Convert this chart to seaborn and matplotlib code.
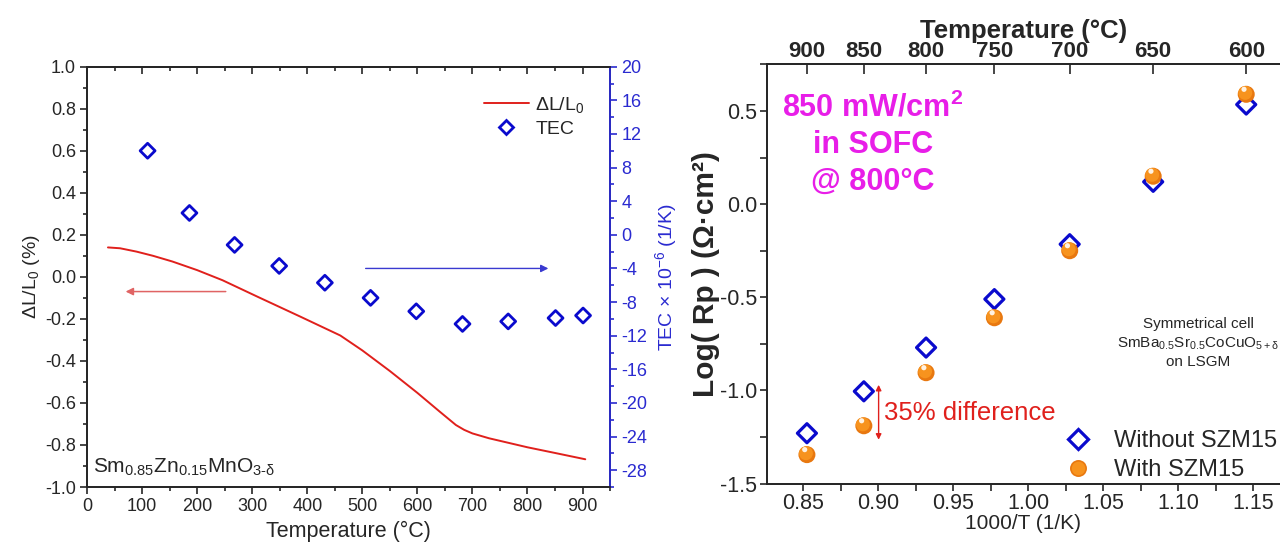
import numpy as np
import matplotlib
matplotlib.use("Agg")
import matplotlib.pyplot as plt
from matplotlib.lines import Line2D
from matplotlib.transforms import ScaledTranslation
from matplotlib.ticker import MultipleLocator, FixedLocator
from matplotlib.legend_handler import HandlerTuple
import seaborn as sns

# ---------------- data ----------------
# dilatometry curve: temperature (°C) vs dL/L0 (%)
dl_temp = [38, 60, 90, 120, 155, 200, 246, 310, 388, 460, 500, 550, 600, 640,
           670, 685, 700, 730, 800, 850, 905]
dl_pct = [0.140, 0.136, 0.120, 0.100, 0.073, 0.032, -0.016, -0.095, -0.190,
          -0.279, -0.350, -0.448, -0.552, -0.640, -0.705, -0.728, -0.745,
          -0.768, -0.811, -0.838, -0.868]

# thermal expansion coefficient (x1e-6 1/K)
tec_temp = [110, 186, 268, 349, 432, 515, 598, 682, 765, 851, 901]
tec_val = [10.0, 2.6, -1.2, -3.7, -5.7, -7.5, -9.1, -10.6, -10.3, -9.9, -9.6]

# polarisation resistance, symmetrical cell
rp_temp = [900, 850, 800, 750, 700, 650, 600]
rp_without = [-1.23, -1.005, -0.77, -0.51, -0.215, 0.12, 0.535]
rp_with = [-1.345, -1.19, -0.905, -0.61, -0.25, 0.15, 0.59]

top_ticks_T = [900, 850, 800, 750, 700, 650, 600]

# ---------------- style ----------------
sns.set_style("ticks")
plt.rcParams["font.family"] = ["Liberation Sans", "DejaVu Sans"]
plt.rcParams["mathtext.fontset"] = "custom"
plt.rcParams["mathtext.rm"] = "Liberation Sans"
plt.rcParams["mathtext.it"] = "Liberation Sans:italic"
plt.rcParams["mathtext.bf"] = "Liberation Sans:bold"
plt.rcParams["axes.linewidth"] = 1.3
plt.rcParams["axes.unicode_minus"] = False

RED = "#e0201c"
BLUE = "#0a0acd"
AXBLUE = "#2a2ad0"
MAGENTA = "#e81ee8"
ORANGE_DARK = "#e87810"
ORANGE = "#f7931e"


def fmt(v, nd):
    return f"{round(v, nd) + 0.0:.{nd}f}"


fig = plt.figure(figsize=(12.8, 5.48), dpi=100)

# ================= left panel =================
axL = fig.add_axes([0.068, 0.1113, 0.4086, 0.767])
sns.lineplot(x=dl_temp, y=dl_pct, ax=axL, color=RED, lw=1.4, sort=False,
             estimator=None, legend=False)
axL.set_xlim(0, 950)
axL.set_ylim(-1.0, 1.0)
axL.set_xticks(np.arange(0, 901, 100))
axL.xaxis.set_minor_locator(MultipleLocator(50))
yt = np.arange(-1.0, 1.01, 0.2)
axL.set_yticks(yt)
axL.set_yticklabels([fmt(v, 1) for v in yt])
axL.yaxis.set_minor_locator(MultipleLocator(0.1))
axL.tick_params(axis="both", which="major", direction="out", length=5,
                width=1.2, labelsize=13, pad=3)
axL.tick_params(axis="both", which="minor", direction="out", length=3,
                width=1.2)
axL.set_xlabel("Temperature (°C)", fontsize=15.5, labelpad=4)
axL.set_ylabel(r"$\Delta$L/L$_0$ (%)", fontsize=14, labelpad=2)

topL = axL.secondary_xaxis("top")
topL.set_xticks(np.arange(0, 901, 100))
topL.xaxis.set_minor_locator(MultipleLocator(50))
topL.tick_params(which="major", direction="in", length=5, width=1.2,
                 labeltop=False)
topL.tick_params(which="minor", direction="in", length=3, width=1.2)

axT = axL.twinx()
sns.scatterplot(x=tec_temp, y=tec_val, ax=axT, marker="D", s=58,
                color=BLUE, facecolor="none", edgecolor=BLUE, linewidth=2.0,
                legend=False, zorder=3)
axT.set_ylim(-30, 20)
axT.set_yticks(np.arange(-28, 21, 4))
axT.yaxis.set_minor_locator(MultipleLocator(2))
axT.tick_params(axis="y", which="major", direction="out", length=5,
                width=1.2, colors=AXBLUE, labelsize=13, pad=3)
axT.tick_params(axis="y", which="minor", direction="out", length=3,
                width=1.2, colors=AXBLUE)
axT.spines["right"].set_color(AXBLUE)
axT.set_ylabel(r"TEC $\times$ 10$^{-6}$ (1/K)", fontsize=14, color=AXBLUE,
               labelpad=4)

# direction arrows
axL.annotate("", xy=(65, -0.07), xytext=(257, -0.07),
             arrowprops=dict(arrowstyle="-|>", color="#e06464", lw=1.1,
                             mutation_scale=11))
axT.annotate("", xy=(843, -4.0), xytext=(501, -4.0),
             arrowprops=dict(arrowstyle="-|>", color="#3a3ad0", lw=1.0,
                             mutation_scale=11))

leg_handles = [
    Line2D([], [], color=RED, lw=1.4),
    Line2D([], [], marker="D", ls="none", markersize=7.6,
           markerfacecolor="none", markeredgecolor=BLUE, markeredgewidth=2.0),
]
axT.legend(leg_handles, [r"$\Delta$L/L$_0$", "TEC"], loc="upper right",
           bbox_to_anchor=(0.985, 0.975), frameon=False, fontsize=14,
           handlelength=2.3, handletextpad=0.35, labelspacing=0.3)

fig.text(93 / 1280, 1 - 473 / 548,
         r"Sm$_{0.85}$Zn$_{0.15}$MnO$_{3\text{-}\mathrm{\delta}}$",
         fontsize=15, va="baseline", ha="left")

# ================= right panel =================
axR = fig.add_axes([0.599, 0.1177, 0.401, 0.7646])
x_without = [1000.0 / (t + 273.15) for t in rp_temp]
x_with = [1000.0 / (t + 273.15) for t in rp_temp]

sns.scatterplot(x=x_without, y=rp_without, ax=axR, marker="D", s=94,
                color=BLUE, facecolor="none", edgecolor=BLUE, linewidth=2.3,
                legend=False, zorder=3)

# shaded spheres: darker rim, lighter body, small highlight
sns.scatterplot(x=x_with, y=rp_with, ax=axR, marker="o", s=150,
                color=ORANGE_DARK, edgecolor="none", legend=False, zorder=4)
sns.scatterplot(x=x_with, y=rp_with, ax=axR, marker="o", s=100,
                color=ORANGE, edgecolor="none", legend=False, zorder=5)
axR.collections[-1].set_offset_transform(
    axR.transData + ScaledTranslation(-0.7 / 72, 1.0 / 72, fig.dpi_scale_trans))
sns.scatterplot(x=x_with, y=rp_with, ax=axR, marker="o", s=14,
                color="#fff2e2", edgecolor="none", legend=False, zorder=6)
axR.collections[-1].set_offset_transform(
    axR.transData + ScaledTranslation(-1.6 / 72, 3.6 / 72, fig.dpi_scale_trans))

axR.set_xlim(0.8256, 1.1678)
axR.set_ylim(-1.5, 0.75)
xt = np.arange(0.85, 1.151, 0.05)
axR.set_xticks(xt)
axR.set_xticklabels([fmt(v, 2) for v in xt])
axR.xaxis.set_minor_locator(MultipleLocator(0.025))
ytr = [-1.5, -1.0, -0.5, 0.0, 0.5]
axR.set_yticks(ytr)
axR.set_yticklabels([fmt(v, 1) for v in ytr])
axR.yaxis.set_minor_locator(MultipleLocator(0.25))
axR.tick_params(axis="both", which="major", direction="out", length=5,
                width=1.2, labelsize=15.5, pad=2)
axR.tick_params(axis="both", which="minor", direction="out", length=5,
                width=1.2)
axR.spines["right"].set_visible(False)
axR.set_xlabel("1000/T (1/K)", fontsize=15, labelpad=0)
axR.set_ylabel("Log( Rp ) (Ω·cm²)", fontsize=21.5, fontweight="bold",
               labelpad=0)

topR = axR.twiny()
topR.set_xlim(axR.get_xlim())
topR.xaxis.set_major_locator(
    FixedLocator([1000.0 / (t + 273.15) for t in top_ticks_T]))
topR.set_xticklabels([str(t) for t in top_ticks_T], fontsize=16,
                     fontweight="bold")
topR.tick_params(axis="x", which="major", direction="in", length=7,
                 width=1.2, pad=2)
topR.spines["right"].set_visible(False)
topR.set_xlabel("Temperature (°C)", fontsize=18.5, fontweight="bold",
                labelpad=2)

# annotations
fig.text(873 / 1280, 1 - 92 / 548,
         "850 mW/cm$^{\\mathbf{2}}$\nin SOFC\n@ 800°C", color=MAGENTA,
         fontsize=22, fontweight="bold", ha="center", va="top",
         multialignment="center", linespacing=1.3)
fig.text(1198 / 1280, 1 - 317 / 548,
         "Symmetrical cell\nSmBa$_{0.5}$Sr$_{0.5}$CoCuO$_{5+\\mathrm{\\delta}}$\non LSGM",
         fontsize=11, ha="center", va="top", multialignment="center",
         linespacing=1.35)
axR.annotate("", xy=(0.9002, -1.265), xytext=(0.9002, -0.97),
             arrowprops=dict(arrowstyle="<|-|>", color=RED, lw=1.0,
                             mutation_scale=8, shrinkA=0, shrinkB=0))
axR.text(0.9035, -1.12, "35% difference", color=RED, fontsize=18.5,
         ha="left", va="center")

r_handles = [
    Line2D([], [], marker="D", ls="none", markersize=9.7,
           markerfacecolor="none", markeredgecolor=BLUE, markeredgewidth=2.3),
    (Line2D([], [], marker="o", ls="none", markersize=12.2,
            markerfacecolor=ORANGE_DARK, markeredgecolor="none"),
     Line2D([], [], marker="o", ls="none", markersize=9.8,
            markerfacecolor=ORANGE, markeredgecolor="none")),
]
axR.legend(r_handles, ["Without SZM15", "With SZM15"], loc="lower right",
           bbox_to_anchor=(1.012, -0.017), frameon=False, fontsize=17,
           handletextpad=0.5, labelspacing=0.3, borderaxespad=0,
           handler_map={tuple: HandlerTuple(ndivide=1)})

fig.savefig("out.png", dpi=100)
